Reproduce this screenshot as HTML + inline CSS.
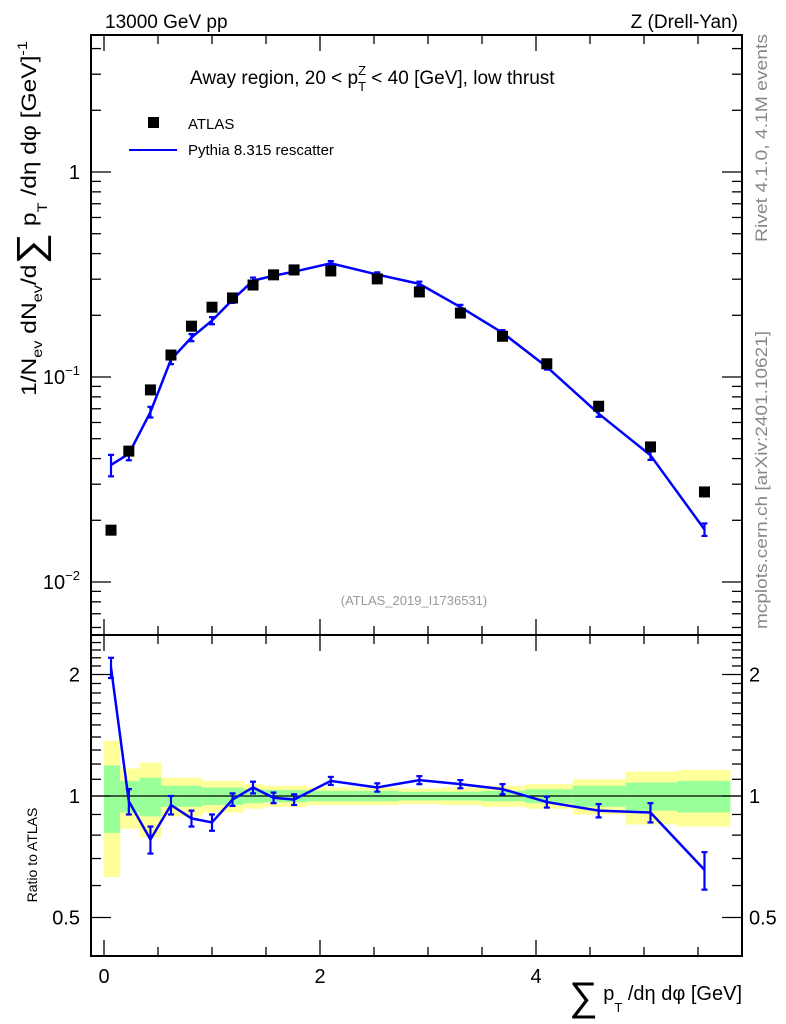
<!DOCTYPE html>
<html><head><meta charset="utf-8"><style>
html,body{margin:0;padding:0;background:#fff;}
svg{display:block;font-family:"Liberation Sans",sans-serif;}
</style></head><body>
<svg id="c" width="786" height="1024" viewBox="0 0 786 1024" xmlns="http://www.w3.org/2000/svg">
<text x="105" y="28" font-size="19">13000 GeV pp</text>
<text x="738" y="28" font-size="19" text-anchor="end">Z (Drell-Yan)</text>
<text x="190" y="84" font-size="19">Away region, 20 &lt; p<tspan font-size="13" dy="7">T</tspan><tspan font-size="13" dx="-8" dy="-16">Z</tspan><tspan dy="9"> &lt; 40 [GeV], low thrust</tspan></text>
<rect x="148" y="117" width="11" height="11" fill="#000"/>
<text x="188" y="129" font-size="15">ATLAS</text>
<line x1="129" y1="150" x2="177" y2="150" stroke="#0000ff" stroke-width="2"/>
<text x="188" y="155" font-size="15">Pythia 8.315 rescatter</text>
<text x="414" y="605" font-size="13" fill="#999" text-anchor="middle">(ATLAS_2019_I1736531)</text>
<text transform="translate(767,138) rotate(-90)" font-size="17" fill="#888" text-anchor="middle" textLength="208" lengthAdjust="spacingAndGlyphs">Rivet 4.1.0,  4.1M events</text>
<text transform="translate(767,480) rotate(-90)" font-size="17" fill="#888" text-anchor="middle" textLength="298" lengthAdjust="spacingAndGlyphs">mcplots.cern.ch [arXiv:2401.10621]</text>
<text transform="translate(36,396) rotate(-90)" font-size="21" textLength="355" lengthAdjust="spacingAndGlyphs">1/N<tspan font-size="14" dy="6">ev</tspan><tspan dy="-6"> dN</tspan><tspan font-size="14" dy="6">ev</tspan><tspan dy="-6">/d</tspan><tspan font-size="38" dy="7">∑</tspan><tspan dy="-7"> p</tspan><tspan font-size="14" dy="11">T</tspan><tspan dy="-11"> /dη dφ  [GeV]</tspan><tspan font-size="14" dy="-9">-1</tspan></text>
<text transform="translate(37,855) rotate(-90)" font-size="14" text-anchor="middle">Ratio to ATLAS</text>
<text x="742" y="1000" font-size="20" text-anchor="end"><tspan font-size="40" dy="10">∑</tspan><tspan dy="-10"> p</tspan><tspan font-size="13" dy="12">T</tspan><tspan dy="-12"> /dη dφ [GeV]</tspan></text>
</svg>
<script>
var categories=[0.065,0.23,0.43,0.62,0.81,1.0,1.19,1.38,1.57,1.76,2.1,2.53,2.92,3.3,3.69,4.1,4.58,5.06,5.56];
var binEdges=[0,0.15,0.33,0.53,0.72,0.91,1.1,1.29,1.48,1.67,1.88,2.33,2.73,3.12,3.5,3.9,4.34,4.83,5.31,5.8];
var atlasValues=[0.0179,0.0435,0.0865,0.128,0.177,0.219,0.243,0.281,0.315,0.333,0.329,0.301,0.26,0.205,0.158,0.116,0.072,0.0456,0.0275];
var ratioValues=[2.08,0.97,0.78,0.95,0.88,0.86,0.98,1.05,0.99,0.98,1.09,1.05,1.095,1.07,1.04,0.966,0.92,0.91,0.656];
var ratioErrors=[0.12,0.07,0.06,0.05,0.04,0.04,0.035,0.035,0.03,0.03,0.025,0.025,0.025,0.025,0.03,0.03,0.035,0.05,0.07];
var statBand=[0.19,0.09,0.11,0.06,0.06,0.05,0.05,0.04,0.035,0.035,0.03,0.03,0.025,0.025,0.03,0.04,0.06,0.08,0.09];
var totBand=[0.37,0.17,0.21,0.11,0.11,0.09,0.09,0.07,0.06,0.06,0.05,0.05,0.045,0.05,0.06,0.07,0.1,0.15,0.16];
var xTickLabels=["0","2","4"];
var mainTickLabels=["10^-2","10^-1","1"];
var ratioTickLabels=["0.5","1","2"];

var svg=document.getElementById('c'),NS="http://www.w3.org/2000/svg";
var L=91,R=742,T=35,M=635,B=956;
function X(v){return 104+v*108;}
function Y(v){return 172-Math.log10(v)*205;}
function YR(v){return 796-Math.log2(v)*121.5;}
function el(t,a,p){var e=document.createElementNS(NS,t);for(var k in a)e.setAttribute(k,a[k]);(p||svg).appendChild(e);return e;}

for(var i=0;i<categories.length;i++){
  var x0=X(binEdges[i]),x1=X(binEdges[i+1]);
  var b=el('rect',{x:x0,y:YR(1+totBand[i]),width:x1-x0,height:YR(1-totBand[i])-YR(1+totBand[i]),fill:'#ffff99'});
  
  
  var g=el('rect',{x:x0,y:YR(1+statBand[i]),width:x1-x0,height:YR(1-statBand[i])-YR(1+statBand[i]),fill:'#99ff99'});
  
  
}
var one=el('line',{x1:L,x2:R,y1:YR(1),y2:YR(1),stroke:'#000','stroke-width':1.2});



var f1=el('rect',{x:L,y:T,width:R-L,height:M-T,fill:'none',stroke:'#000','stroke-width':2});


var f2=el('rect',{x:L,y:M,width:R-L,height:B-M,fill:'none',stroke:'#000','stroke-width':2});



for(var v=0;v<=5.9;v+=0.5){
  var maj=Math.abs(v%2)<1e-6, len=maj?16:9;
  [[T,1],[M,-1],[M,1],[B,-1]].forEach(function(p){
    var t=el('line',{x1:X(v),x2:X(v),y1:p[0],y2:p[0]+p[1]*len,stroke:'#000','stroke-width':1.3});
    
    
  });
}
xTickLabels.forEach(function(s,i){
  var t=el('text',{x:X(i*2),y:983,'font-size':20,'text-anchor':'middle'});t.textContent=s;
  
  
});
for(var d=-3;d<=0;d++)for(var m=1;m<=9;m++){
  var v=m*Math.pow(10,d),y=Y(v);if(y>M||y<T)continue;
  var len=m==1?20:10;
  [[L,1],[R,-1]].forEach(function(p){
    var t=el('line',{x1:p[0],x2:p[0]+p[1]*len,y1:y,y2:y,stroke:'#000','stroke-width':1.3});
    
    
  });
}
mainTickLabels.forEach(function(s,i){
  var y=Y(Math.pow(10,i-2))+7,t;
  if(i<2){t=el('text',{x:80,y:y,'font-size':20,'text-anchor':'end'});
    t.innerHTML='10<tspan font-size="13" dy="-9">−'+(2-i)+'</tspan>';}
  else{t=el('text',{x:80,y:y,'font-size':20,'text-anchor':'end'});t.textContent='1';}
  
  
});
var rt=[0.4,0.5,0.6,0.7,0.8,0.9,1,1.1,1.2,1.3,1.4,1.5,1.6,1.7,1.8,1.9,2,2.1,2.2,2.3,2.4,2.5];
rt.forEach(function(v){
  var y=YR(v);if(y>B||y<M)return;
  var maj=(v==0.5||v==1||v==2),len=maj?20:10;
  [[L,1],[R,-1]].forEach(function(p){
    var t=el('line',{x1:p[0],x2:p[0]+p[1]*len,y1:y,y2:y,stroke:'#000','stroke-width':1.3});
    
    
  });
});
ratioTickLabels.forEach(function(s){
  var y=YR(parseFloat(s))+7;
  var a=el('text',{x:80,y:y,'font-size':20,'text-anchor':'end'});a.textContent=s;
  
  
  var b=el('text',{x:749,y:y,'font-size':20});b.textContent=s;
  
  
});

var mc=atlasValues.map(function(a,i){return a*ratioValues[i];});
var pts=categories.map(function(c,i){return X(c)+','+Y(mc[i]);}).join(' ');
var ln=el('polyline',{points:pts,fill:'none',stroke:'#0000ff','stroke-width':2.5});


var pr=categories.map(function(c,i){return X(c)+','+YR(ratioValues[i]);}).join(' ');
var lr=el('polyline',{points:pr,fill:'none',stroke:'#0000ff','stroke-width':2.5});


function ebar(x,y1,y2,name){
  var gg=el('g',{stroke:'#0000ff','stroke-width':2.2});
  
  
  el('line',{x1:x,x2:x,y1:y1,y2:y2},gg);
  el('line',{x1:x-3,x2:x+3,y1:y1,y2:y1},gg);
  el('line',{x1:x-3,x2:x+3,y1:y2,y2:y2},gg);
}
categories.forEach(function(c,i){
  var e=ratioErrors[i];
  ebar(X(c),Y(mc[i]*(1+e)),Y(mc[i]*(1-e)),'mc-error-bar');
  ebar(X(c),YR(ratioValues[i]+e),YR(ratioValues[i]-e),'mc-ratio-error-bar');
});
categories.forEach(function(c,i){
  var r=el('rect',{x:X(c)-5.5,y:Y(atlasValues[i])-5.5,width:11,height:11,fill:'#000'});
  
  
});
</script>
</body></html>
